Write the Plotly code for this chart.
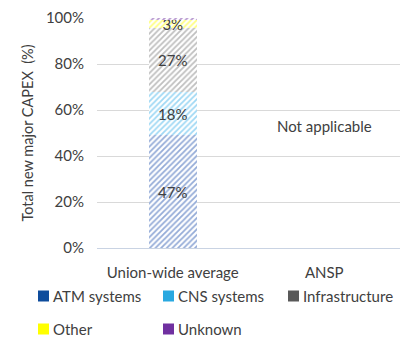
import plotly.graph_objects as go

categories = ["Union-wide average", "ANSP"]
series_names = ["ATM systems", "CNS systems", "Infrastructure", "Other", "Unknown"]
series_values = [
    [47, None],
    [18, None],
    [27, None],
    [3, None],
    [1, None],
]
series_labels = ["47%", "18%", "27%", "3%", ""]
series_colors = ["#0E4C9C", "#29A8E0", "#595959", "#FFFF00", "#7030A0"]
hatch_colors = ["#2A58B0", "#40B2EA", "#7F7F7F", "#FFFF00", "#7030A0"]
y_ticks = [0, 20, 40, 60, 80, 100]
y_ticklabels = ["0%", "20%", "40%", "60%", "80%", "100%"]

FONT = "Lato"
TXT = "#404040"
W, H = 406, 339
ML, MR, MT, MB = 97, 6, 18, 91
PW, PH = W - ML - MR, H - MT - MB

fig = go.Figure()

for name, vals, lab, col in zip(series_names, series_values, series_labels, hatch_colors):
    fig.add_trace(go.Bar(
        x=categories, y=vals, name=name,
        text=[lab, ""], textposition="inside", insidetextanchor="middle",
        constraintext="none",
        textfont=dict(family=FONT, size=15, color=TXT),
        marker=dict(color="white", line=dict(width=0),
                    pattern=dict(shape="/", fgcolor=col, bgcolor="white",
                                 size=4, solidity=0.45)),
        width=0.32, showlegend=False, hoverinfo="skip",
    ))

fig.add_annotation(x="ANSP", y=53, text="Not applicable", showarrow=False,
                   font=dict(family=FONT, size=15, color=TXT))

# legend: solid swatch + label, two rows below the axis
legend_slots = [(38, 296), (163, 296), (288, 296), (38, 329), (163, 329)]
for (px, py), name, col in zip(legend_slots, series_names, series_colors):
    x0 = (px - ML) / PW
    x1 = (px + 11 - ML) / PW
    yc = (MT + PH - py) / PH
    half = 5.5 / PH
    fig.add_shape(type="rect", xref="paper", yref="paper",
                  x0=x0, x1=x1, y0=yc - half, y1=yc + half,
                  fillcolor=col, line=dict(width=0))
    fig.add_annotation(xref="paper", yref="paper",
                       x=(px + 13 - ML) / PW, y=yc, xanchor="left", yanchor="middle",
                       text=name, showarrow=False,
                       font=dict(family=FONT, size=15, color=TXT))

fig.update_layout(
    width=W, height=H,
    margin=dict(l=ML, r=MR, t=MT, b=MB, autoexpand=False),
    barmode="stack", barnorm="percent",
    plot_bgcolor="white", paper_bgcolor="white",
    font=dict(family=FONT, size=15, color=TXT),
    showlegend=False,
    xaxis=dict(showgrid=False, showline=False, ticks="", ticklabelstandoff=14,
               tickfont=dict(family=FONT, size=15, color=TXT)),
    yaxis=dict(range=[0, 100], tickvals=y_ticks, ticktext=y_ticklabels,
               showgrid=True, gridcolor="#D9D9D9", gridwidth=1,
               zeroline=True, zerolinecolor="#C9D3E3", zerolinewidth=1,
               ticks="", ticklabelstandoff=12,
               tickfont=dict(family=FONT, size=15, color=TXT),
               title=dict(text="Total new major CAPEX  (%)", standoff=8,
                          font=dict(family=FONT, size=14.5, color=TXT))),
    bargap=0.68,
)

fig.write_html("out.html")
